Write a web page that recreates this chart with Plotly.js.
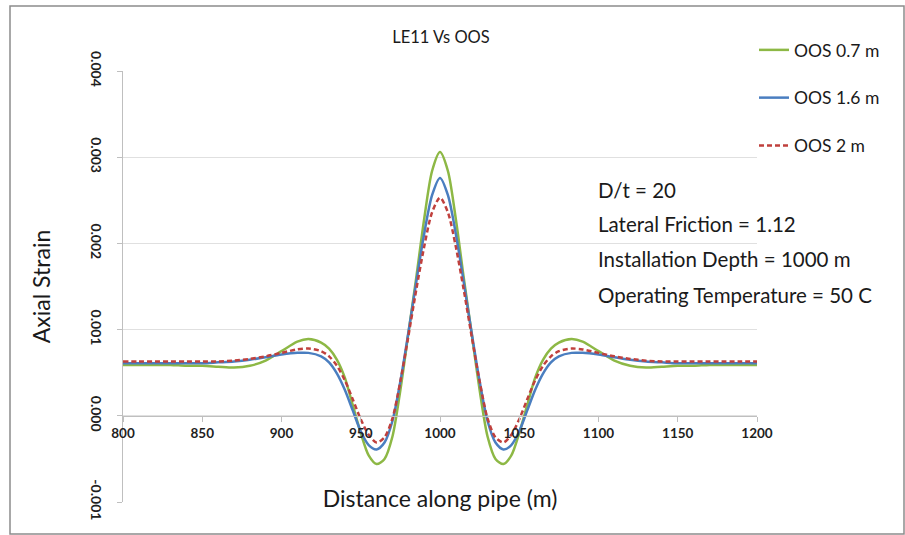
<!DOCTYPE html>
<html>
<head>
<meta charset="utf-8">
<script src="https://cdn.plot.ly/plotly-3.0.1.min.js"></script>
<style>
  html, body { margin: 0; padding: 0; background: #ffffff; }
  #chart { width: 905px; height: 535px; }
</style>
</head>
<body>
<div id="chart"></div>
<script>
// Distance along the pipe (m)
const distance = [800, 810, 820, 830, 840, 850, 860, 870, 880, 890, 900, 910, 917,
  925, 930, 935, 940, 945, 950, 955, 960, 965, 970, 975, 980, 985, 990, 995, 1000,
  1005, 1010, 1015, 1020, 1025, 1030, 1035, 1040, 1045, 1050, 1055, 1060, 1065, 1070, 1075,
  1083, 1090, 1100, 1110, 1120, 1130, 1140, 1150, 1160, 1170, 1180, 1190, 1200];

// Axial strain, OOS 0.7 m
const strainOOS07 = [0.00059, 0.00059, 0.00059, 0.00059, 0.00058, 0.00058, 0.00057, 0.00056, 0.00058, 0.00064, 0.00075, 0.00086, 0.00089,
  0.00085, 0.00078, 0.00065, 0.00044, 0.00012, -0.00020, -0.00046, -0.00056, -0.00050, -0.00024, 0.00030, 0.00095, 0.00160, 0.00228, 0.00284, 0.00306,
  0.00284, 0.00228, 0.00160, 0.00095, 0.00030, -0.00024, -0.00050, -0.00056, -0.00046, -0.00020, 0.00012, 0.00044, 0.00065, 0.00078, 0.00085,
  0.00089, 0.00086, 0.00075, 0.00064, 0.00058, 0.00056, 0.00057, 0.00058, 0.00058, 0.00059, 0.00059, 0.00059, 0.00059];

// Axial strain, OOS 1.6 m
const strainOOS16 = [0.00061, 0.00061, 0.00061, 0.00061, 0.00061, 0.00061, 0.00062, 0.00063, 0.00065, 0.00068, 0.00071, 0.00073, 0.00073,
  0.00069, 0.00062, 0.00049, 0.00030, 0.00006, -0.00018, -0.00034, -0.00039, -0.00031, -0.00006, 0.00040, 0.00096, 0.00155, 0.00211, 0.00256, 0.00276,
  0.00256, 0.00211, 0.00155, 0.00096, 0.00040, -0.00006, -0.00031, -0.00039, -0.00034, -0.00018, 0.00006, 0.00030, 0.00049, 0.00062, 0.00069,
  0.00073, 0.00073, 0.00071, 0.00068, 0.00065, 0.00063, 0.00062, 0.00061, 0.00061, 0.00061, 0.00061, 0.00061, 0.00061];

// Axial strain, OOS 2 m
const strainOOS2 = [0.00063, 0.00063, 0.00063, 0.00063, 0.00063, 0.00063, 0.00063, 0.00064, 0.00066, 0.00069, 0.00073, 0.00077, 0.00078,
  0.00075, 0.00069, 0.00058, 0.00041, 0.00019, -0.00004, -0.00022, -0.00031, -0.00025, -0.00003, 0.00040, 0.00092, 0.00146, 0.00196, 0.00236, 0.00253,
  0.00236, 0.00196, 0.00146, 0.00092, 0.00040, -0.00003, -0.00025, -0.00031, -0.00022, -0.00004, 0.00019, 0.00041, 0.00058, 0.00069, 0.00075,
  0.00078, 0.00077, 0.00073, 0.00069, 0.00066, 0.00064, 0.00063, 0.00063, 0.00063, 0.00063, 0.00063, 0.00063, 0.00063];

const seriesNames = ['OOS 0.7 m', 'OOS 1.6 m', 'OOS 2 m'];

const xTickVals = [800, 850, 900, 950, 1000, 1050, 1100, 1150, 1200];
const xTickText = ['800', '850', '900', '950', '1000', '1050', '1100', '1150', '1200'];
const yTickVals = [-0.001, 0, 0.001, 0.002, 0.003, 0.004];
const yTickText = ['-0.001', '0.000', '0.001', '0.002', '0.003', '0.004'];

const notes = ['D/t = 20', 'Lateral Friction = 1.12', 'Installation Depth = 1000 m', 'Operating Temperature = 50 C'];

const FONT = 'Lato, "Open Sans", sans-serif';

const traces = [
  { x: distance, y: strainOOS07, name: seriesNames[0], legendgroup: 'a', mode: 'lines',
    line: { color: '#8DB845', width: 2.5, shape: 'spline', smoothing: 0.8 } },
  { x: distance, y: strainOOS16, name: seriesNames[1], legendgroup: 'b', mode: 'lines',
    line: { color: '#4A7EC0', width: 2.5, shape: 'spline', smoothing: 0.8 } },
  { x: distance, y: strainOOS2, name: seriesNames[2], legendgroup: 'c', mode: 'lines',
    line: { color: '#C0403D', width: 2.5, dash: '5px,3px', shape: 'spline', smoothing: 0.8 } }
];

// plot area spans pixels x 123..757, y 71..502
const L = 123, T = 71, W = 634, H = 431;
const px = v => (v - L) / W;
const py = v => (T + H - v) / H;

const annotations = notes.map((t, i) => ({
  text: t, xref: 'paper', yref: 'paper',
  x: px(596), y: py([190, 224, 259, 295][i]),
  xanchor: 'left', yanchor: 'middle', showarrow: false,
  font: { family: FONT, size: 20.5, color: '#1a1a1a' }
}));

const layout = {
  width: 905, height: 535,
  margin: { l: L, r: 905 - L - W, t: T, b: 535 - T - H },
  paper_bgcolor: '#ffffff', plot_bgcolor: '#ffffff',
  font: { family: FONT, color: '#1a1a1a' },
  title: { text: 'LE11 Vs OOS', x: 441 / 905, xanchor: 'center', y: 1 - 37 / 535, yanchor: 'middle',
    font: { family: FONT, size: 16.5, color: '#1a1a1a' } },
  xaxis: {
    range: [800, 1200], tickvals: xTickVals, ticktext: xTickText,
    anchor: 'free', position: 0.2,
    showline: true, linecolor: '#bfbfbf', linewidth: 1,
    ticks: 'outside', ticklen: 5, tickcolor: '#bfbfbf',
    showgrid: false, zeroline: false,
    tickfont: { family: FONT, size: 13.5, color: '#1f1f1f', weight: 'bold' },
    title: { text: 'Distance along pipe (m)', standoff: 50, font: { family: FONT, size: 23, color: '#1a1a1a' } }
  },
  yaxis: {
    range: [-0.001, 0.004], tickvals: yTickVals, ticktext: yTickText,
    showline: true, linecolor: '#bfbfbf', linewidth: 1,
    ticks: 'outside', ticklen: 5, tickcolor: '#bfbfbf',
    showgrid: true, gridcolor: '#e0e0e0', gridwidth: 1, zeroline: false,
    tickangle: 90, ticklabelstandoff: 9,
    tickfont: { family: FONT, size: 14, color: '#1f1f1f', weight: 'bold' },
    title: { text: 'Axial Strain', standoff: 31, font: { family: FONT, size: 23, color: '#1a1a1a' } }
  },
  showlegend: true,
  legend: {
    x: px(754), y: py(32), xanchor: 'left', yanchor: 'top',
    bgcolor: 'rgba(0,0,0,0)', tracegroupgap: 22,
    font: { family: FONT, size: 17.5, color: '#1a1a1a' }
  },
  annotations: annotations,
  shapes: [{
    type: 'rect', xref: 'paper', yref: 'paper',
    x0: px(10), x1: px(904), y0: py(534), y1: py(6),
    line: { color: '#8c8c8c', width: 1.5 }
  }]
};

Plotly.newPlot('chart', traces, layout, { displayModeBar: false, staticPlot: true });
</script>
</body>
</html>
